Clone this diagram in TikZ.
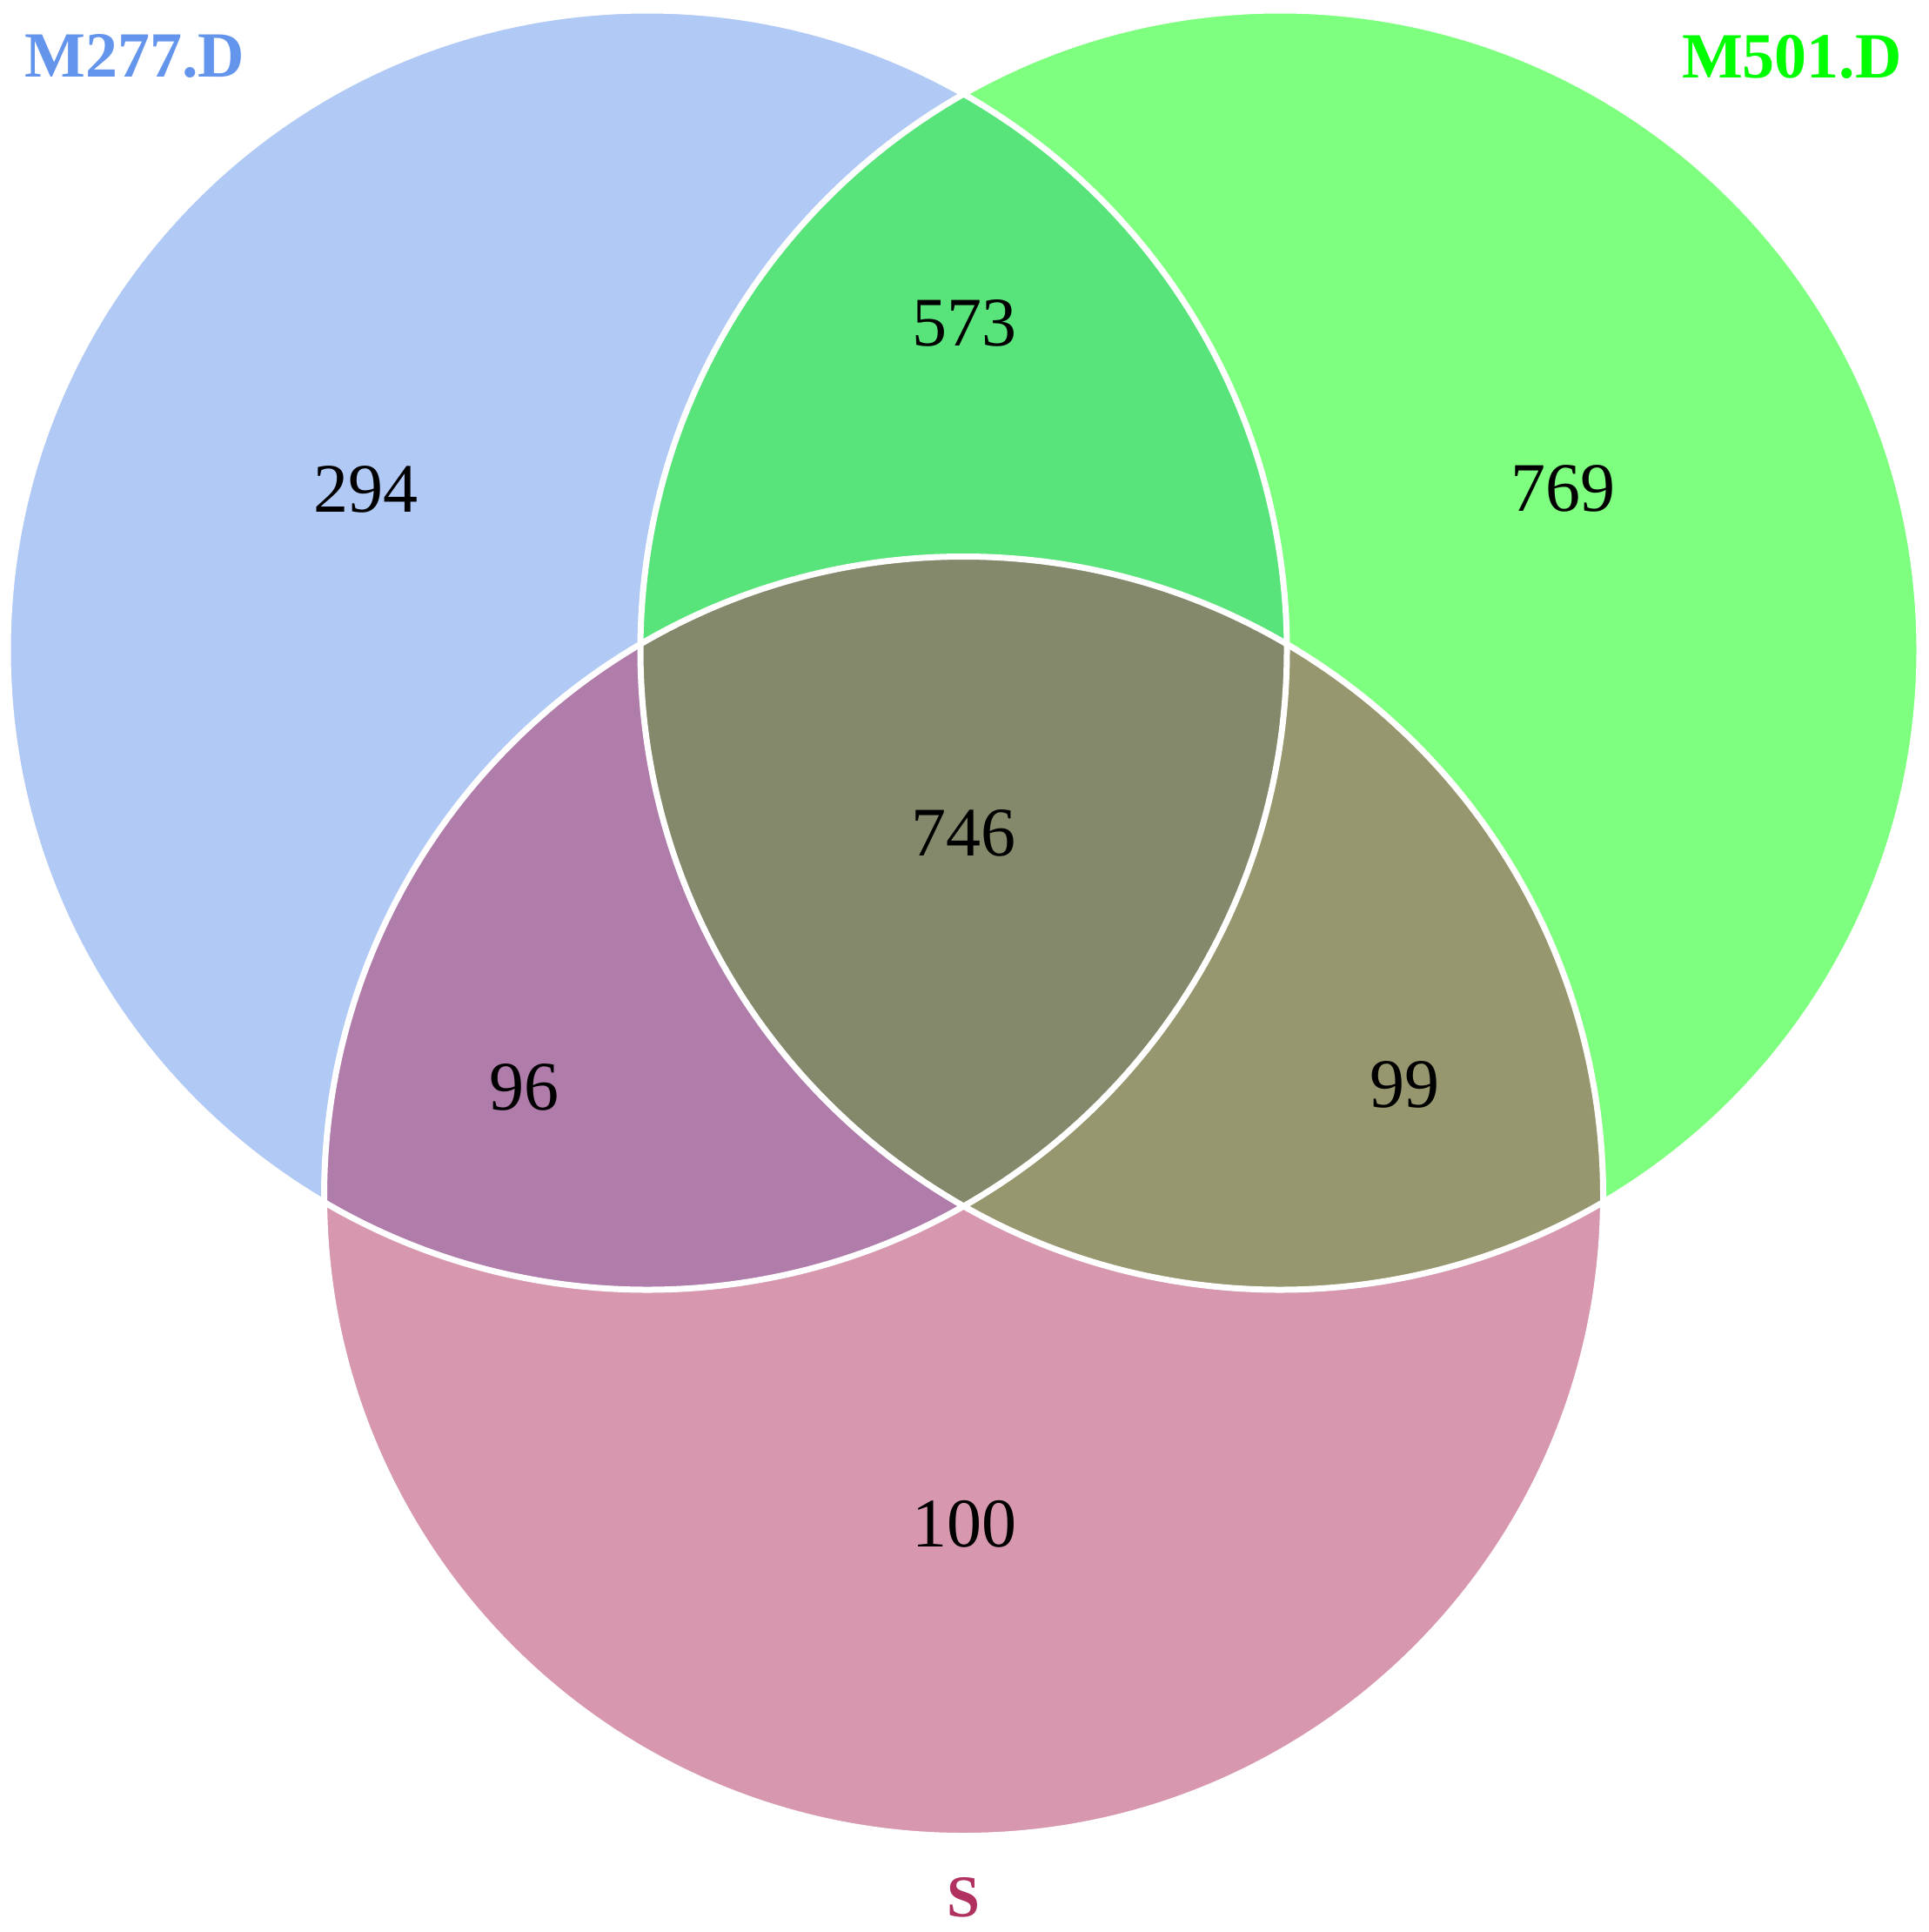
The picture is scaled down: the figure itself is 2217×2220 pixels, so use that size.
\documentclass[tikz,border=0pt]{standalone}
\usepackage{fontspec}
\setmainfont{Liberation Serif}
\definecolor{cfblue}{RGB}{100,149,237}
\definecolor{vgreen}{RGB}{0,255,0}
\definecolor{vmaroon}{RGB}{176,48,96}
\tikzset{
  setfill/.style={fill opacity=0.5},
  setline/.style={draw=white, line width=7pt},
  count/.style={inner sep=0pt, font=\fontsize{80}{90}\selectfont, text=black},
  setlabel/.style={inner sep=0pt, font=\bfseries\fontsize{74}{80}\selectfont},
}
\begin{document}
\begin{tikzpicture}[x=1pt,y=-1pt]
\useasboundingbox (0,0) rectangle (2217,2220);
\fill[white] (0,0) rectangle (2217,2220);
% circle centres
\coordinate (cA) at (744,747);
\coordinate (cB) at (1471,747);
\coordinate (cC) at (1107.5,1374.5);
% fills
\fill[cfblue, setfill] (cA) circle[radius=735pt];
\fill[vgreen, setfill] (cB) circle[radius=735pt];
\fill[vmaroon, setfill] (cC) circle[radius=735pt];
% outlines
\draw[setline] (cA) circle[radius=735pt];
\draw[setline] (cB) circle[radius=735pt];
\draw[setline] (cC) circle[radius=735pt];
% counts
\node[count] (n294) at (420,562) {294};
\node[count] (n573) at (1108,371) {573};
\node[count] (n769) at (1796,561) {769};
\node[count] (n746) at (1107,957) {746};
\node[count] (n96) at (602,1249) {96};
\node[count] (n99) at (1614,1246) {99};
\node[count] (n100) at (1108,1751) {100};
% set labels
\node[setlabel, text=cfblue, anchor=west] (lA) at (28,65) {M277.D};
\node[setlabel, text=vgreen, anchor=east] (lB) at (2186,65) {M501.D};
\node[setlabel, text=vmaroon, font=\bfseries\fontsize{68}{74}\selectfont] (lC) at (1107,2180) {S};
\end{tikzpicture}
\end{document}
